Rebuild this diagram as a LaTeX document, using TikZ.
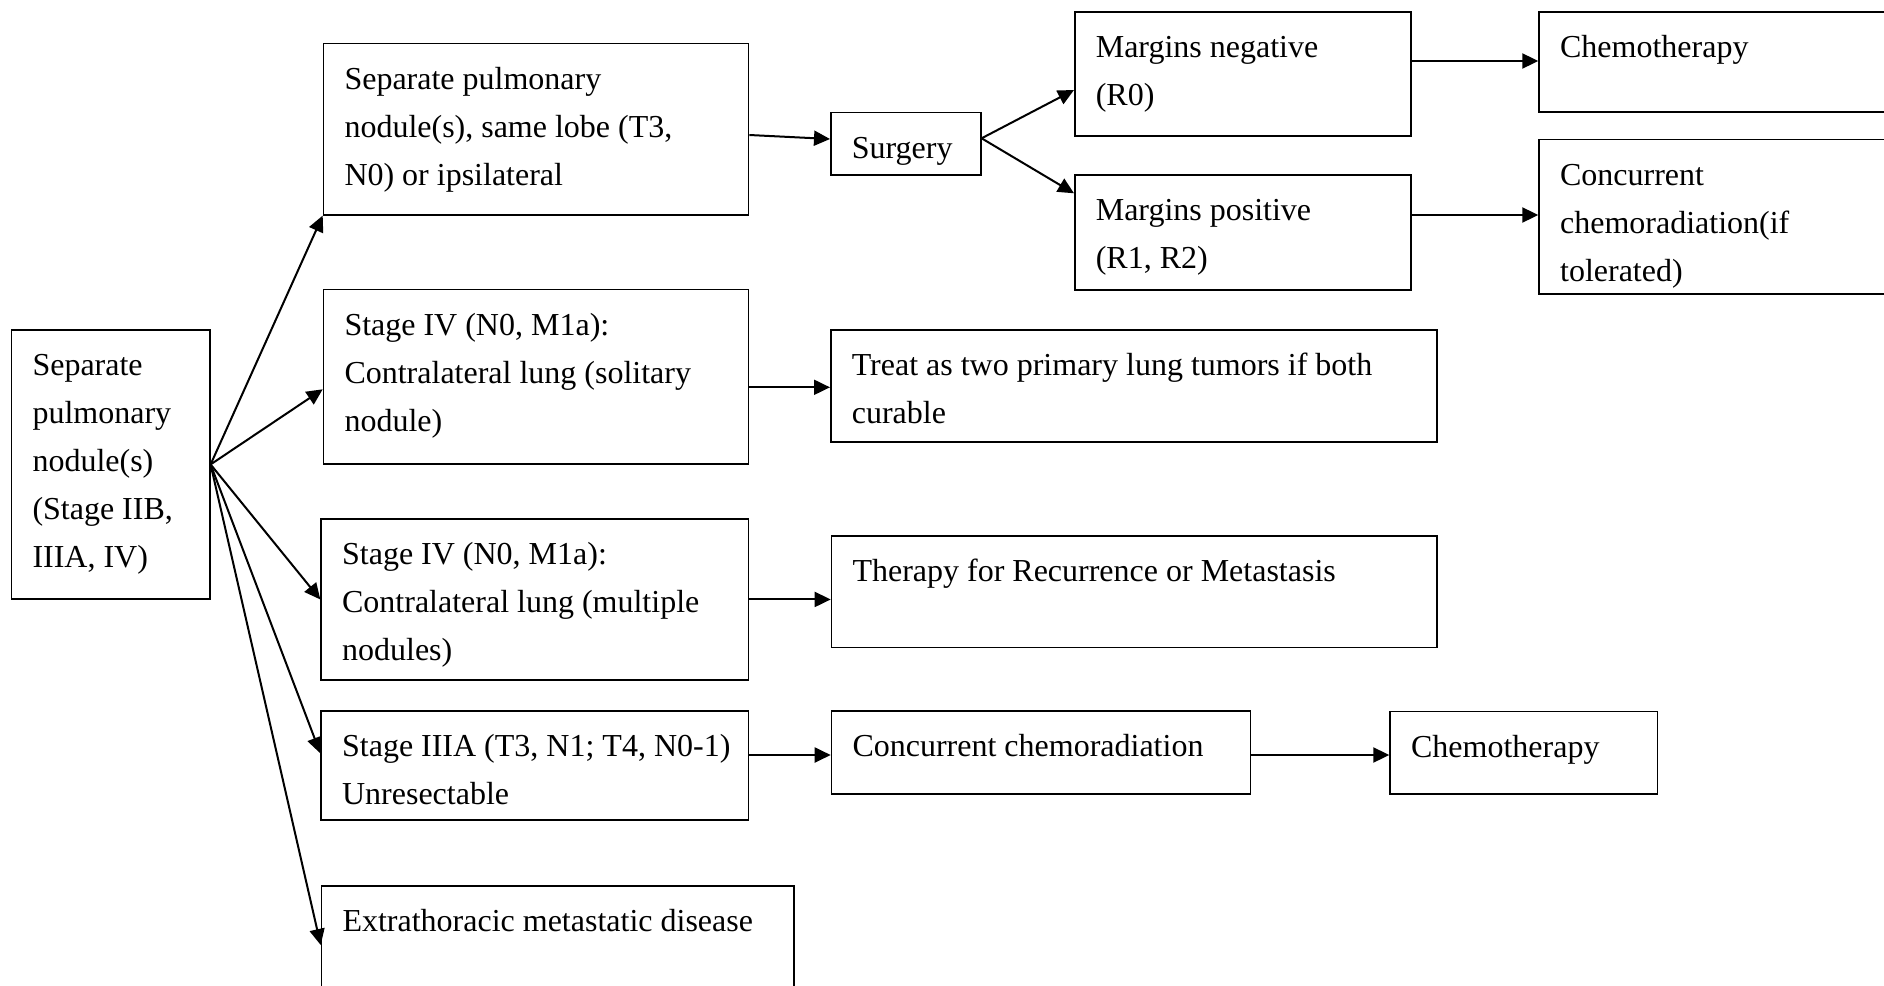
\documentclass[tikz,border=0pt]{standalone}
\usepackage{fontspec}
\setmainfont{Liberation Serif}
\usetikzlibrary{arrows.meta,calc}

% Top-aligned text block of a given size (in pt): left inset 21pt,
% first baseline 45.7pt below the top edge.
\newcommand\boxtext[3]{\parbox[c][#2pt][t]{#1pt}{\raggedright\leftskip=21pt\rightskip=-300pt plus 1fil\rule{0pt}{45.7pt}#3}}

\tikzset{
  box/.style={draw, line width=1.6pt, inner sep=0pt, anchor=north west,
              font=\fontsize{32}{48}\selectfont},
  link/.style={line width=2pt, -{Triangle[length=16pt,width=15pt]}},
}

\begin{document}
\begin{tikzpicture}[x=1pt, y=-1pt]
\useasboundingbox (0,0) rectangle (1884,985);

% root
\node[box] (L) at (10.7,329) {\boxtext{198.3}{269.3}{Separate\\pulmonary\\nodule(s)\\(Stage IIB,\\IIIA, IV)}};

% first column
\node[box] (A) at (322.7,42.7) {\boxtext{425}{171.3}{Separate pulmonary\\nodule(s), same lobe (T3,\\N0) or ipsilateral}};
\node[box] (B) at (322.7,288.7) {\boxtext{425}{174.6}{Stage IV (N0, M1a):\\Contralateral lung (solitary\\nodule)}};
\node[box] (C) at (320.3,518.3) {\boxtext{427.4}{160.7}{Stage IV (N0, M1a):\\Contralateral lung (multiple\\nodules)}};
\node[box] (D) at (320.3,710) {\boxtext{427.4}{109.3}{Stage IIIA (T3, N1; T4, N0-1)\\Unresectable}};
\node[box] (E) at (320.7,885) {\boxtext{472.6}{130}{Extrathoracic metastatic disease}};

% second column
\node[box] (S) at (830,111.7) {\boxtext{150}{62.6}{Surgery}};
\node[box] (T) at (830,329.3) {\boxtext{606.4}{111.7}{Treat as two primary lung tumors if both\\curable}};
\node[box] (R) at (830.7,535) {\boxtext{605.3}{111.7}{Therapy for Recurrence or Metastasis}};
\node[box] (K) at (830.7,710) {\boxtext{419}{83.3}{Concurrent chemoradiation}};

% further steps
\node[box] (N) at (1074,11) {\boxtext{336}{124}{Margins negative\\(R0)}};
\node[box] (P) at (1074,174.3) {\boxtext{336}{115}{Margins positive\\(R1, R2)}};
\node[box] (H) at (1389.3,710.7) {\boxtext{267.4}{82.6}{Chemotherapy}};
\node[box] (M) at (1538.3,11) {\boxtext{400}{100}{Chemotherapy}};
\node[box] (Q) at (1538.3,138.5) {\boxtext{400}{154.5}{Concurrent\\chemoradiation(if\\tolerated)}};

% branches from the root
\draw[link] (L.east) -- (A.south west);
\draw[link] (L.east) -- ($(B.north west)+(0,100.6)$);
\draw[link] (L.east) -- (C.west);
\draw[link] (L.east) -- ($(D.north west)+(0,43.3)$);
\draw[link] (L.east) -- ($(E.north west)+(0,60)$);

% onward steps
\draw[link] ($(A.north east)+(0,92.3)$) -- ($(S.north west)+(0,27.3)$);
\draw[link] ($(S.north east)+(0,26.6)$) -- ($(N.north west)+(0,79)$);
\draw[link] ($(S.north east)+(0,26.6)$) -- ($(P.north west)+(0,19)$);
\draw[link] ($(N.north east)+(0,50)$) -- ($(M.north west)+(0,50)$);
\draw[link] ($(P.north east)+(0,40.7)$) -- ($(Q.north west)+(0,76.5)$);
\draw[link] ($(B.north east)+(0,98.6)$) -- ($(T.north west)+(0,58)$);
\draw[link] (C.east) -- (C.east -| R.west);
\draw[link] ($(D.north east)+(0,45)$) -- ($(K.north west)+(0,45)$);
\draw[link] ($(K.north east)+(0,45)$) -- ($(H.north west)+(0,44.3)$);
\end{tikzpicture}
\end{document}
